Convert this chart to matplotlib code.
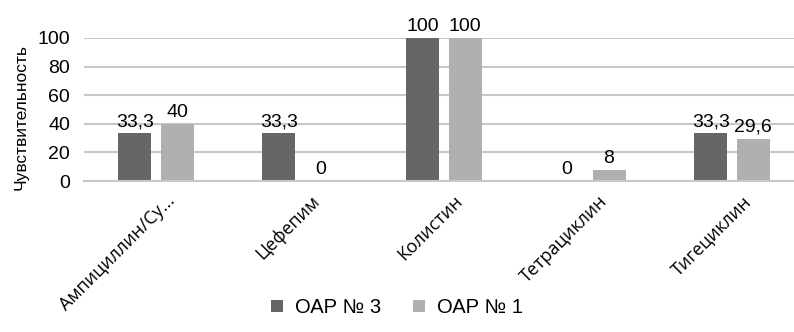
import matplotlib

matplotlib.use("Agg")
import matplotlib.pyplot as plt
import numpy as np
from matplotlib.transforms import ScaledTranslation

plt.rcParams["font.family"] = ["Liberation Sans", "DejaVu Sans"]

# sensitivity (%) per antibiotic for two ICUs
drugs = ["Ампициллин/Су...", "Цефепим", "Колистин", "Тетрациклин", "Тигециклин"]
oar3 = [33.3, 33.3, 100, 0, 33.3]
oar1 = [40, 0, 100, 8, 29.6]
series_names = ["ОАР № 3", "ОАР № 1"]
colors = ["#666666", "#b0b0b0"]


def fmt(v):
    return f"{v:g}".replace(".", ",")


fig = plt.figure(figsize=(7.94, 3.32), dpi=100)
ax = fig.add_axes([84 / 794, 151 / 332, 710 / 794, 143 / 332])

x = np.arange(len(drugs))
width = 0.229
offset = 0.146
for vals, name, color, sign in zip([oar3, oar1], series_names, colors, [-1, 1]):
    bars = ax.bar(x + sign * offset, vals, width, color=color, label=name)
    for b, v in zip(bars, vals):
        ax.annotate(
            fmt(v),
            (b.get_x() + b.get_width() / 2, v),
            xytext=(0, 2),
            textcoords="offset points",
            ha="center",
            va="bottom",
            fontsize=14,
        )

ax.set_xlim(-0.5, 4.5 - 10 / 144)
ax.set_ylim(0, 100)
ax.set_yticks(range(0, 101, 20))
ax.yaxis.grid(True, color="#c8c8c8", linewidth=1.5)
ax.set_axisbelow(True)
for s in ["top", "right", "left"]:
    ax.spines[s].set_visible(False)
ax.spines["bottom"].set_color("#c8c8c8")
ax.spines["bottom"].set_linewidth(1.5)
ax.tick_params(axis="both", length=0, labelsize=14)
ax.tick_params(axis="y", pad=10)

ax.set_xticks(x)
ax.set_xticklabels(
    drugs, rotation=45, ha="right", rotation_mode="anchor",
    fontsize=13, family=["Open Sans", "DejaVu Sans"],
)
ax.tick_params(axis="x", pad=8)
for lbl in ax.get_xticklabels():
    lbl.set_transform(lbl.get_transform() + ScaledTranslation(0.1, 0, fig.dpi_scale_trans))

ax.set_ylabel("Чувствительность", fontsize=12.5)
ax.yaxis.set_label_coords(-0.078, 0.45)

fig.legend(
    loc="lower center",
    bbox_to_anchor=(0.5, -0.01),
    ncol=2,
    frameon=False,
    fontsize=14.5,
    handlelength=0.6,
    handleheight=0.6,
    columnspacing=1.6,
    handletextpad=0.6,
)

fig.savefig("out.png", dpi=100)
